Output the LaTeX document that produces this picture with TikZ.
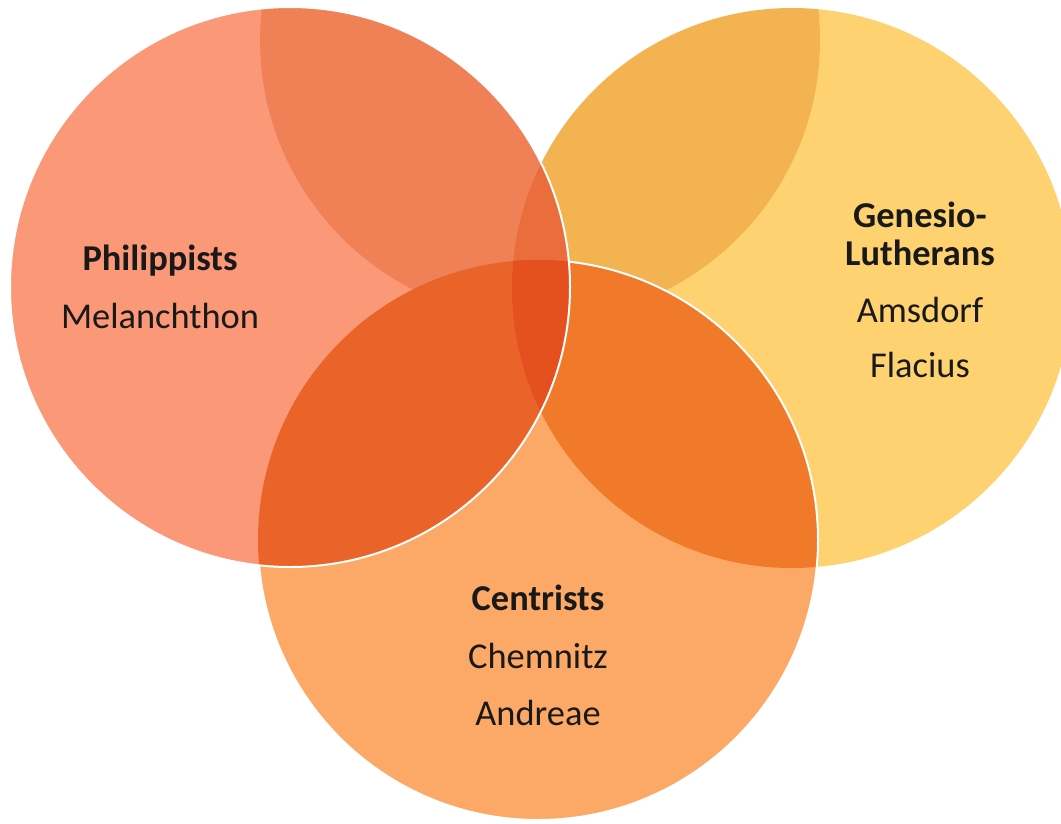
\documentclass[tikz,border=0pt]{standalone}
\usepackage{fontspec}
\setmainfont{Carlito}
\definecolor{philcol}{RGB}{250,152,120}
\definecolor{gnescol}{RGB}{254,210,112}
\definecolor{centcol}{RGB}{252,168,102}
\definecolor{philgnescol}{RGB}{244,128,84}
\definecolor{centgnescol}{RGB}{240,122,42}
\definecolor{philcentcol}{RGB}{234,100,42}
\definecolor{allcol}{RGB}{228,80,30}
\definecolor{shadecol}{RGB}{245,218,185}
\tikzset{
    grouphead/.style={font=\fontsize{36.4}{44}\selectfont\bfseries, text=black!90, inner sep=0pt, anchor=base},
    member/.style={font=\fontsize{36.4}{44}\selectfont, text=black!90, inner sep=0pt, anchor=base},
    rim/.style={white, line width=2pt}
}
\begin{document}
\begin{tikzpicture}[x=1pt, y=-1pt]
    \useasboundingbox (0, 0) rectangle (1061, 823);
    \clip (0, 0) rectangle (1061, 823);
    \def\rad{280}
    \coordinate (phil) at (290, 287);
    \coordinate (gnes) at (792, 288);
    \coordinate (cent) at (538, 540);
    \coordinate (shade) at (540, 40);
    % right circle lies lowest
    \fill[gnescol] (gnes) circle (\rad);
    % bottom circle
    \fill[centcol] (cent) circle (\rad);
    \begin{scope}
        \clip (gnes) circle (\rad);
        \fill[centgnescol] (cent) circle (\rad);
    \end{scope}
    % left circle on top
    \fill[philcol] (phil) circle (\rad);
    \begin{scope}
        \clip (phil) circle (\rad);
        \fill[philgnescol] (gnes) circle (\rad);
        \fill[philcentcol] (cent) circle (\rad);
        \clip (gnes) circle (\rad);
        \fill[allcol] (cent) circle (\rad);
    \end{scope}
    % darker band at the top, outside the bottom circle
    \begin{scope}[even odd rule]
        \clip (0, 0) rectangle (1061, 823) (cent) circle (\rad);
        \begin{scope}[blend mode=multiply]
            \begin{scope}
                \clip (phil) circle (\rad);
                \fill[shadecol] (shade) circle (\rad);
            \end{scope}
            \begin{scope}
                \clip (0, 0) rectangle (1061, 823) (phil) circle (\rad);
                \clip (gnes) circle (\rad);
                \fill[shadecol] (shade) circle (\rad);
            \end{scope}
        \end{scope}
    \end{scope}
    % white rims
    \begin{scope}[even odd rule]
        \clip (0, 0) rectangle (1061, 823) (phil) circle (\rad);
        \draw[rim] (cent) circle (\rad);
    \end{scope}
    \draw[rim] (phil) circle (\rad);
    % labels
    \node[grouphead] (philhead) at (160, 270) {Philippists};
    \node[member] (melan) at (160, 328) {Melanchthon};
    \node[grouphead] (gneshead) at (920, 227) {Genesio-};
    \node[grouphead] (gneshead2) at (920, 265) {Lutherans};
    \node[member] (amsdorf) at (920, 322) {Amsdorf};
    \node[member] (flacius) at (920, 377) {Flacius};
    \node[grouphead] (centhead) at (538, 610) {Centrists};
    \node[member] (chemnitz) at (538, 668) {Chemnitz};
    \node[member] (andreae) at (538, 725) {Andreae};
\end{tikzpicture}
\end{document}
